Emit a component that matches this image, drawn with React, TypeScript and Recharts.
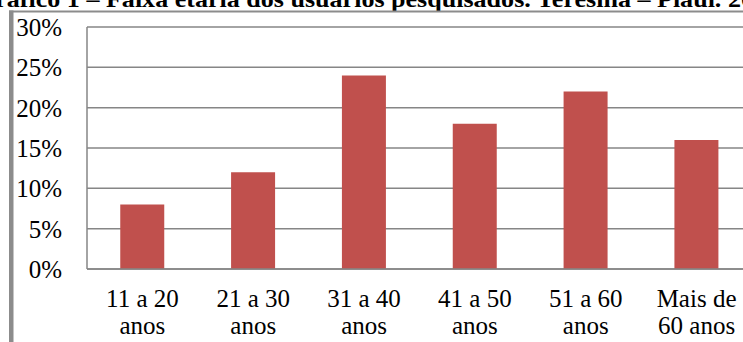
import React from "react";
import { BarChart, Bar, XAxis, YAxis, CartesianGrid } from "recharts";

// age brackets (two text lines each) and share of respondents, in %
const faixas = ["11 a 20|anos", "21 a 30|anos", "31 a 40|anos", "41 a 50|anos", "51 a 60|anos", "Mais de|60 anos"];
const percentuais = [8, 12, 24, 18, 22, 16];
const yTicks = [0, 5, 10, 15, 20, 25, 30];

const titulo = "Gráfico 1 – Faixa etária dos usuários pesquisados. Teresina – Piauí. 2013";

const data = faixas.map((faixa, i) => ({ faixa, valor: percentuais[i] }));

const FONT = "Liberation Serif, Tinos, Times New Roman, DejaVu Serif, serif";

function FaixaTick(props: any) {
  const { x, y, payload } = props;
  const [l1, l2] = String(payload.value).split("|");
  return (
    <text x={x} y={y} textAnchor="middle" style={{ fontFamily: FONT, fontSize: 25 }} fill="#000">
      <tspan x={x} dy={38}>{l1}</tspan>
      <tspan x={x} dy={26.5}>{l2}</tspan>
    </text>
  );
}

export default function App() {
  return (
    <div style={{ position: "fixed", left: 0, top: 0, width: 743, height: 342, overflow: "hidden", background: "#fff", fontFamily: FONT }}>
      <div style={{ position: "absolute", left: 0, top: 0 }}>
        <BarChart width={760} height={342} data={data} margin={{ top: 27, right: 8, left: 0, bottom: 0 }} barCategoryGap="30%">
          <CartesianGrid vertical={false} stroke="#868686" strokeWidth={1.5} />
          <XAxis
            dataKey="faixa"
            height={73}
            interval={0}
            tickLine={false}
            tickSize={0}
            tickMargin={0}
            axisLine={{ stroke: "#868686", strokeWidth: 1.5 }}
            tick={<FaixaTick />}
          />
          <YAxis
            width={87}
            domain={[0, 30]}
            ticks={yTicks}
            interval={0}
            tickFormatter={(v: number) => `${v}%`}
            tickLine={false}
            tickSize={0}
            tickMargin={25}
            axisLine={{ stroke: "#868686", strokeWidth: 1.5 }}
            tick={{ style: { fontFamily: FONT }, fontSize: 25, fill: "#000" }}
          />
          <Bar dataKey="valor" fill="#C0504D" isAnimationActive={false} />
        </BarChart>
      </div>
      {/* caption above the frame, cut by the top edge, plus the frame's gray top rule and left bar */}
      <svg width={743} height={342} style={{ position: "absolute", left: 0, top: 0, pointerEvents: "none" }}>
        <text
          x={-25}
          y={7}
          textLength={805}
          lengthAdjust="spacingAndGlyphs"
          style={{ fontFamily: FONT, fontSize: 23, fontWeight: "bold" }}
          fill="#000"
        >
          {titulo}
        </text>
        <line x1={9} y1={11.5} x2={743} y2={11.5} stroke="#8c8c8c" strokeWidth={2} />
        <rect x={9} y={10.5} width={4.5} height={332} fill="#8c8c8c" />
      </svg>
    </div>
  );
}
